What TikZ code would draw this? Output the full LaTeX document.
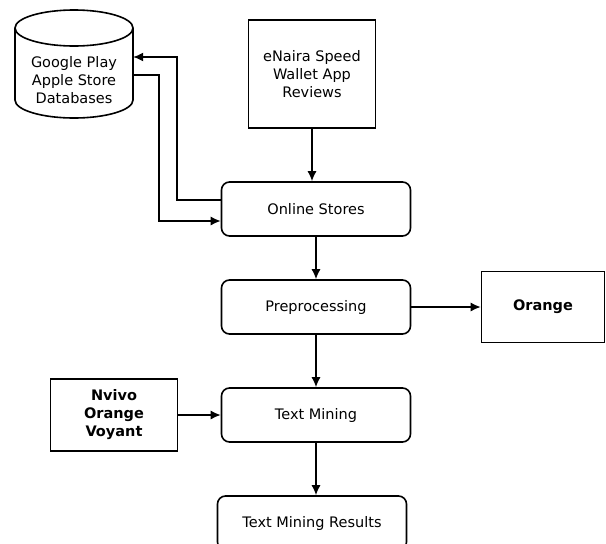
\documentclass[tikz,border=0pt]{standalone}
\usepackage{fontspec}
\setmainfont{DejaVu Sans}
\usetikzlibrary{arrows.meta,positioning}

\tikzset{
  proc/.style={draw, line width=1.6pt, rounded corners=8pt, minimum width=189pt, minimum height=54pt, align=center},
  tool/.style={draw, line width=1.6pt, align=center, font=\fontsize{14.5}{18}\selectfont\bfseries},
  flow/.style={-{Latex[length=10pt,width=9pt]}, line width=1.4pt}
}

\begin{document}
\begin{tikzpicture}[x=1pt,y=-1pt,node distance=98pt,on grid,font=\fontsize{14.5}{18}\selectfont]
        \useasboundingbox (0,0) rectangle (606,544);
        \node[proc] (stores) at (316,209) {Online Stores};
        \node[proc] (prep) [below=of stores] {Preprocessing};
        \node[proc] (mining) [below=108pt of prep] {Text Mining};
        \node[proc] (results) [below=108pt of mining, xshift=-4pt] {Text Mining Results};
        \node[draw, line width=1.6pt, minimum width=127pt, minimum height=108pt, align=center] (reviews) at (312,74) {eNaira Speed\\Wallet App\\Reviews};
        \node[tool, minimum width=123pt, minimum height=71pt] (orange) [right=227pt of prep] {Orange};
        \node[tool, minimum width=127pt, minimum height=72pt] (nvivo) [left=202pt of mining] {Nvivo\\Orange\\Voyant};
        % database cylinder
        \node[minimum width=118pt, align=center] (db) at (74,80) {Google Play\\Apple Store\\Databases};
        \draw[line width=1.6pt] (74,28) ellipse [x radius=59, y radius=18];
        \draw[line width=1.6pt] (15,28) -- (15,100) arc [start angle=180, end angle=0, x radius=59, y radius=18] -- (133,28);
        \coordinate (up) at (177,57);
        \coordinate (down) at (159,75);
        \coordinate (outlet) at ([yshift=9pt]stores.west);
        \coordinate (inlet) at ([yshift=-12pt]stores.west);
        \draw[flow] (reviews.south) -- (reviews.south |- stores.north);
        \draw[flow] (stores) -- (prep);
        \draw[flow] (prep) -- (mining);
        \draw[flow] (mining) -- (results.north -| mining);
        \draw[flow] (prep) -- (orange);
        \draw[flow] (nvivo) -- (mining);
        \draw[flow] (outlet) -| (up) -- (db.east |- up);
        \draw[flow] (db.east |- down) -| (down |- inlet) -- (inlet);
      \end{tikzpicture}
\end{document}
